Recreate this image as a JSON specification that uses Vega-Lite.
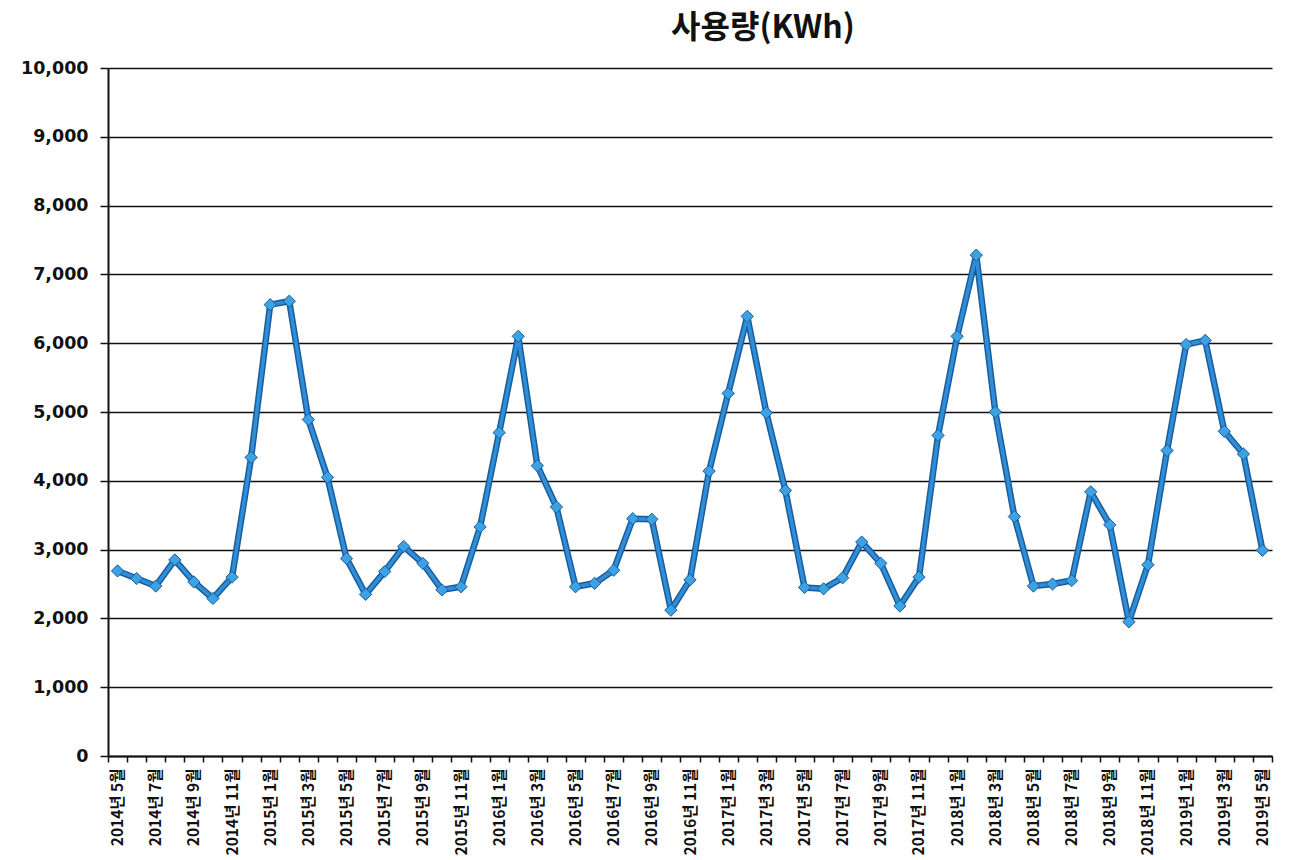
{
  "$schema": "https://vega.github.io/schema/vega-lite/v6.json",
  "width": 1164,
  "height": 688,
  "autosize": {"type": "none"},
  "padding": {"left": 108, "top": 68, "right": 35, "bottom": 104},
  "background": "white",
  "title": {
    "text": "사용량(KWh)",
    "font": "Noto Sans CJK KR",
    "fontSize": 32,
    "fontWeight": "bold",
    "color": "#111",
    "anchor": "middle",
    "dx": 73,
    "offset": 14
  },
  "config": {"view": {"stroke": null}},
  "data": {
    "values": [
      {"m": "2014-05", "v": 2690}, {"m": "2014-06", "v": 2580}, {"m": "2014-07", "v": 2470}, {"m": "2014-08", "v": 2850},
      {"m": "2014-09", "v": 2530}, {"m": "2014-10", "v": 2290}, {"m": "2014-11", "v": 2600}, {"m": "2014-12", "v": 4340},
      {"m": "2015-01", "v": 6560}, {"m": "2015-02", "v": 6610}, {"m": "2015-03", "v": 4890}, {"m": "2015-04", "v": 4050},
      {"m": "2015-05", "v": 2870}, {"m": "2015-06", "v": 2350}, {"m": "2015-07", "v": 2680}, {"m": "2015-08", "v": 3045},
      {"m": "2015-09", "v": 2800}, {"m": "2015-10", "v": 2415}, {"m": "2015-11", "v": 2460}, {"m": "2015-12", "v": 3330},
      {"m": "2016-01", "v": 4700}, {"m": "2016-02", "v": 6100}, {"m": "2016-03", "v": 4220}, {"m": "2016-04", "v": 3620},
      {"m": "2016-05", "v": 2460}, {"m": "2016-06", "v": 2510}, {"m": "2016-07", "v": 2700}, {"m": "2016-08", "v": 3450},
      {"m": "2016-09", "v": 3440}, {"m": "2016-10", "v": 2120}, {"m": "2016-11", "v": 2560}, {"m": "2016-12", "v": 4140},
      {"m": "2017-01", "v": 5270}, {"m": "2017-02", "v": 6390}, {"m": "2017-03", "v": 4990}, {"m": "2017-04", "v": 3860},
      {"m": "2017-05", "v": 2450}, {"m": "2017-06", "v": 2430}, {"m": "2017-07", "v": 2590}, {"m": "2017-08", "v": 3110},
      {"m": "2017-09", "v": 2800}, {"m": "2017-10", "v": 2180}, {"m": "2017-11", "v": 2600}, {"m": "2017-12", "v": 4660},
      {"m": "2018-01", "v": 6100}, {"m": "2018-02", "v": 7280}, {"m": "2018-03", "v": 5000}, {"m": "2018-04", "v": 3480},
      {"m": "2018-05", "v": 2470}, {"m": "2018-06", "v": 2500}, {"m": "2018-07", "v": 2550}, {"m": "2018-08", "v": 3840},
      {"m": "2018-09", "v": 3360}, {"m": "2018-10", "v": 1950}, {"m": "2018-11", "v": 2780}, {"m": "2018-12", "v": 4440},
      {"m": "2019-01", "v": 5980}, {"m": "2019-02", "v": 6040}, {"m": "2019-03", "v": 4720}, {"m": "2019-04", "v": 4390},
      {"m": "2019-05", "v": 2990}
    ]
  },
  "encoding": {
    "x": {
      "field": "m",
      "type": "ordinal",
      "scale": {"paddingInner": 0, "paddingOuter": 0},
      "axis": {
        "title": null,
        "labelAngle": -90,
        "labelOverlap": false,
        "labelExpr": "(parseInt(substring(datum.value,5,7),10) % 2 == 1) ? (substring(datum.value,0,4) + '년 ' + parseInt(substring(datum.value,5,7),10) + '월') : ''",
        "labelFont": "Noto Sans CJK KR",
        "labelFontWeight": "bold",
        "labelFontSize": 15.5,
        "labelColor": "#111",
        "labelPadding": 6,
        "tickBand": "extent",
        "tickSize": 6,
        "tickColor": "#111",
        "tickWidth": 1.5,
        "domainColor": "#111",
        "domainWidth": 2,
        "grid": false
      }
    },
    "y": {
      "field": "v",
      "type": "quantitative",
      "scale": {"domain": [0, 10000], "nice": false},
      "axis": {
        "title": null,
        "tickCount": 10,
        "format": ",d",
        "labelFont": "DejaVu Sans",
        "labelFontWeight": "bold",
        "labelFontSize": 17.5,
        "labelColor": "#111",
        "labelPadding": 12,
        "tickSize": 8,
        "tickColor": "#111",
        "tickWidth": 1.5,
        "domainColor": "#111",
        "domainWidth": 2,
        "grid": true,
        "gridColor": "#111",
        "gridWidth": 1.5
      }
    }
  },
  "layer": [
    {"mark": {"type": "line", "color": "#1a5c9c", "strokeWidth": 6.5, "strokeJoin": "round"}},
    {"mark": {"type": "line", "color": "#2f8ed8", "strokeWidth": 3.5, "strokeJoin": "round"}},
    {"mark": {"type": "point", "shape": "diamond", "filled": true, "size": 150, "fill": "#3ca2e4", "stroke": "#1a5c9c", "strokeWidth": 1, "opacity": 1}}
  ]
}
